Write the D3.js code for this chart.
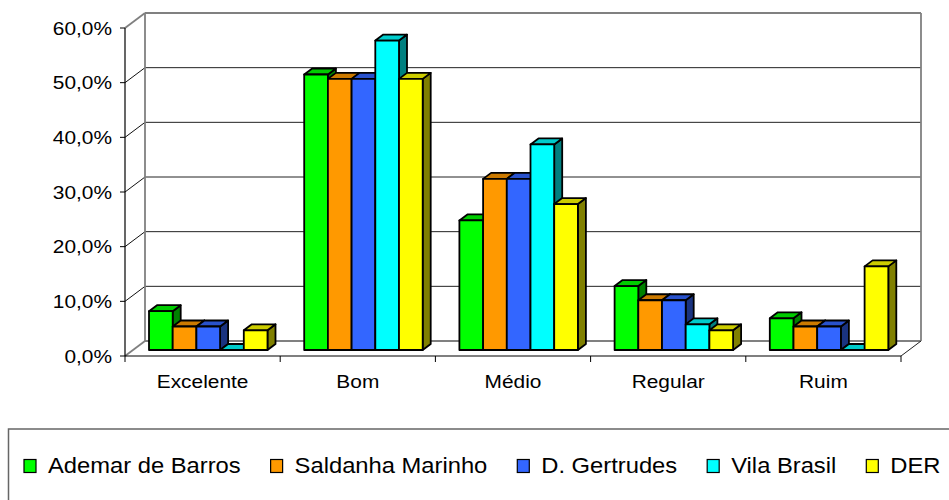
<!DOCTYPE html>
<html><head><meta charset="utf-8">
<script src="https://cdn.jsdelivr.net/npm/d3@7"></script>
<style>
html,body{margin:0;padding:0;background:#fff;}
text{font-family:"Liberation Sans",Arial,sans-serif;fill:#000;}
</style></head>
<body><svg id="chart" width="949" height="500"></svg>
<script>
const categories = ["Excelente","Bom","Médio","Regular","Ruim"];
const seriesNames = ["Ademar de Barros","Saldanha Marinho","D. Gertrudes","Vila Brasil","DER"];
const ademar    = [7.1, 50.4, 23.7, 11.7, 5.8];
const saldanha  = [4.3, 49.6, 31.3, 9.1, 4.3];
const gertrudes = [4.3, 49.6, 31.3, 9.1, 4.3];
const vila      = [0.0, 56.6, 37.6, 4.7, 0.0];
const der       = [3.6, 49.6, 26.7, 3.6, 15.3];
const yTicks = [0,10,20,30,40,50,60];
const colors = ["#00FF00","#FF9900","#3366FF","#00FFFF","#FFFF00"];

const seriesValues = [ademar, saldanha, gertrudes, vila, der];

const svg = d3.select("#chart");
const W = 949, H = 500;
svg.append("rect").attr("width",W).attr("height",H).attr("fill","#fff");

// geometry
const x = d3.scaleBand().domain(categories).range([125, 901]).padding(0);
const y = d3.scaleLinear().domain([0, 60]).range([356, 28]);
const DX = 20, DY = -15;          // full depth offset
const BF = 0.4, BD = 0.4;         // bar front depth fraction, bar depth fraction
const bx = DX*BF, by = DY*BF, sdx = DX*BD, sdy = DY*BD;
const x1 = d3.scaleBand().domain(seriesNames).range([16, 16 + 5*23.7]).padding(0);

const gWall = svg.append("g");
yTicks.forEach(t => {
  const yf = y(t), yb = y(t) + DY;
  const isEdge = (t === 0 || t === 60);
  gWall.append("line").attr("x1",125).attr("y1",yf).attr("x2",125+DX).attr("y2",yb)
    .attr("stroke", isEdge ? "#808080" : "#111").attr("stroke-width", isEdge ? 1.8 : 1);
  gWall.append("line").attr("x1",125+DX).attr("y1",yb).attr("x2",901+DX).attr("y2",yb)
    .attr("stroke", isEdge ? "#808080" : "#222").attr("stroke-width", isEdge ? 1.8 : 1);
});
gWall.append("line").attr("x1",125+DX).attr("y1",y(60)+DY).attr("x2",125+DX).attr("y2",y(0)+DY)
  .attr("stroke","#808080").attr("stroke-width",1.8);
gWall.append("line").attr("x1",901+DX).attr("y1",y(60)+DY).attr("x2",901+DX).attr("y2",y(0)+DY)
  .attr("stroke","#808080").attr("stroke-width",1.8);
gWall.append("line").attr("x1",901).attr("y1",y(0)).attr("x2",901+DX).attr("y2",y(0)+DY)
  .attr("stroke","#222").attr("stroke-width",1);

// axes (front)
const gAxis = svg.append("g");
gAxis.append("line").attr("x1",125).attr("y1",y(60)).attr("x2",125).attr("y2",y(0))
  .attr("stroke","#000").attr("stroke-width",1.2);
gAxis.append("line").attr("x1",125).attr("y1",y(0)).attr("x2",901).attr("y2",y(0))
  .attr("stroke","#000").attr("stroke-width",1.2);
yTicks.forEach(t => {
  gAxis.append("line").attr("x1",120).attr("y1",y(t)).attr("x2",125).attr("y2",y(t))
    .attr("stroke","#000").attr("stroke-width",1);
});
const catEdges = categories.map(c => x(c)).concat([x(categories[categories.length-1]) + x.bandwidth()]);
catEdges.forEach(e => {
  gAxis.append("line").attr("x1",e).attr("y1",y(0)).attr("x2",e).attr("y2",y(0)+6)
    .attr("stroke","#000").attr("stroke-width",1);
});

const fmt = v => d3.format(".1f")(v).replace(".", ",") + "%";
const AX_FS = 18.5, AX_SX = 1.13;
yTicks.forEach(t => {
  svg.append("text")
    .attr("transform", `translate(112,${y(t)+6.5}) scale(${AX_SX},1)`)
    .attr("text-anchor","end").attr("font-size",AX_FS).text(fmt(t));
});
categories.forEach(c => {
  svg.append("text")
    .attr("transform", `translate(${x(c)+x.bandwidth()/2},387.5) scale(${AX_SX},1)`)
    .attr("text-anchor","middle").attr("font-size",AX_FS).text(c);
});

// bars
const shade = (c,k) => { const r = d3.rgb(c); return d3.rgb(r.r*k, r.g*k, r.b*k).formatHex(); };
const gBars = svg.append("g");
categories.forEach((c, ci) => {
  seriesNames.forEach((s, si) => {
    const v = seriesValues[si][ci];
    const x0 = x(c) + x1(s) + bx;
    const w = x1.bandwidth();
    const y0 = y(0) + by;
    const yt = y(v) + by;
    const col = colors[si];
    const g = gBars.append("g").attr("stroke","#000").attr("stroke-width",1.8).attr("stroke-linejoin","round");
    g.append("path").attr("fill", shade(col,0.5))
      .attr("d", `M${x0+w},${yt}L${x0+w+sdx},${yt+sdy}L${x0+w+sdx},${y0+sdy}L${x0+w},${y0}Z`);
    g.append("path").attr("fill", shade(col,0.8))
      .attr("d", `M${x0},${yt}L${x0+sdx},${yt+sdy}L${x0+w+sdx},${yt+sdy}L${x0+w},${yt}Z`);
    if (v > 0) {
      g.append("rect").attr("x",x0).attr("y",yt).attr("width",w).attr("height",y0-yt).attr("fill",col);
    }
  });
});

// legend
const gLeg = svg.append("g");
gLeg.append("rect").attr("x",8.5).attr("y",429).attr("width",1000).attr("height",120)
  .attr("fill","#fff").attr("stroke","#666").attr("stroke-width",1.5);
const LEG_FS = 22, LEG_SX = 1.08;
let lx = 24;
seriesNames.forEach((s, i) => {
  gLeg.append("rect").attr("x",lx).attr("y",459.5).attr("width",12).attr("height",13)
    .attr("fill",colors[i]).attr("stroke","#000").attr("stroke-width",1.2);
  const t = gLeg.append("text")
    .attr("transform", `translate(${lx+24},473) scale(${LEG_SX},1)`)
    .attr("font-size",LEG_FS).text(s);
  const tw = t.node().getComputedTextLength() * LEG_SX;
  lx = lx + 24 + tw + 30;
});
</script>
</body></html>
